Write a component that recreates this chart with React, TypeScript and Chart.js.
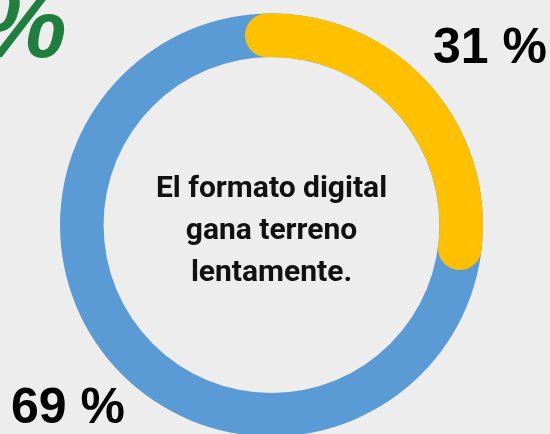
import React, { useEffect, useRef } from "react";
import { Chart, registerables } from "chart.js";

Chart.register(...registerables);

const categories = ["Digital", "Impreso"];
const values = [31, 69];
const colors = ["#ffc000", "#5b9bd5"];
const centerLines = ["El formato digital", "gana terreno", "lentamente."];

const trackPlugin = {
  id: "track",
  beforeDatasetsDraw(chart: any) {
    const meta = chart.getDatasetMeta(0);
    const el = meta.data[0];
    if (!el) return;
    const { x, y, innerRadius, outerRadius } = el.getProps(["x", "y", "innerRadius", "outerRadius"], true);
    const ctx = chart.ctx;
    ctx.save();
    ctx.beginPath();
    ctx.arc(x, y, outerRadius, 0, Math.PI * 2);
    ctx.arc(x, y, innerRadius, 0, Math.PI * 2, true);
    ctx.closePath();
    ctx.fillStyle = colors[1];
    ctx.fill();
    ctx.restore();
  },
};

const textPlugin = {
  id: "texts",
  afterDatasetsDraw(chart: any) {
    const meta = chart.getDatasetMeta(0);
    const el = meta.data[0];
    const { x, y } = el.getProps(["x", "y"], true);
    const ctx = chart.ctx;
    ctx.save();
    ctx.fillStyle = "#111111";
    ctx.textAlign = "center";
    ctx.textBaseline = "alphabetic";
    ctx.font = "bold 30px Roboto";
    centerLines.forEach((line, i) => {
      ctx.fillText(line, x, y - 28 + i * 42);
    });
    ctx.textAlign = "left";
    ctx.font = "bold 50px 'Liberation Sans'";
    ctx.fillStyle = "#000000";
    ctx.fillText(`${values[0]} %`, 433, 63);
    ctx.fillText(`${values[1]} %`, 11, 423);
    ctx.font = "italic bold 100px 'Liberation Sans'";
    ctx.fillStyle = "#1f7f3f";
    ctx.fillText("%", -22, 57);
    ctx.restore();
  },
};

export default function App() {
  const ref = useRef<HTMLCanvasElement>(null);
  useEffect(() => {
    document.body.style.margin = "0";
    document.body.style.background = "#ededed";
    const chart = new Chart(ref.current!, {
      type: "doughnut",
      data: {
        labels: categories,
        datasets: [
          {
            data: values,
            backgroundColor: [colors[0], "rgba(0,0,0,0)"],
            borderWidth: 0,
            borderRadius: (c: any) => (c.dataIndex === 0 ? 22 : 0),
          },
        ],
      },
      options: {
        responsive: false,
        animation: false,
        events: [],
        rotation: -8,
        cutout: "79.4%",
        layout: { padding: { left: 60, right: 67, top: 13, bottom: 13 } },
        plugins: { legend: { display: false }, tooltip: { enabled: false } },
      },
      plugins: [trackPlugin, textPlugin],
    });
    return () => chart.destroy();
  }, []);
  return (
    <div style={{ position: "fixed", left: 0, top: 0, width: 550, height: 434, overflow: "hidden", background: "#ededed" }}>
      <canvas ref={ref} width={550} height={450} style={{ position: "absolute", left: 0, top: 0 }} />
    </div>
  );
}
